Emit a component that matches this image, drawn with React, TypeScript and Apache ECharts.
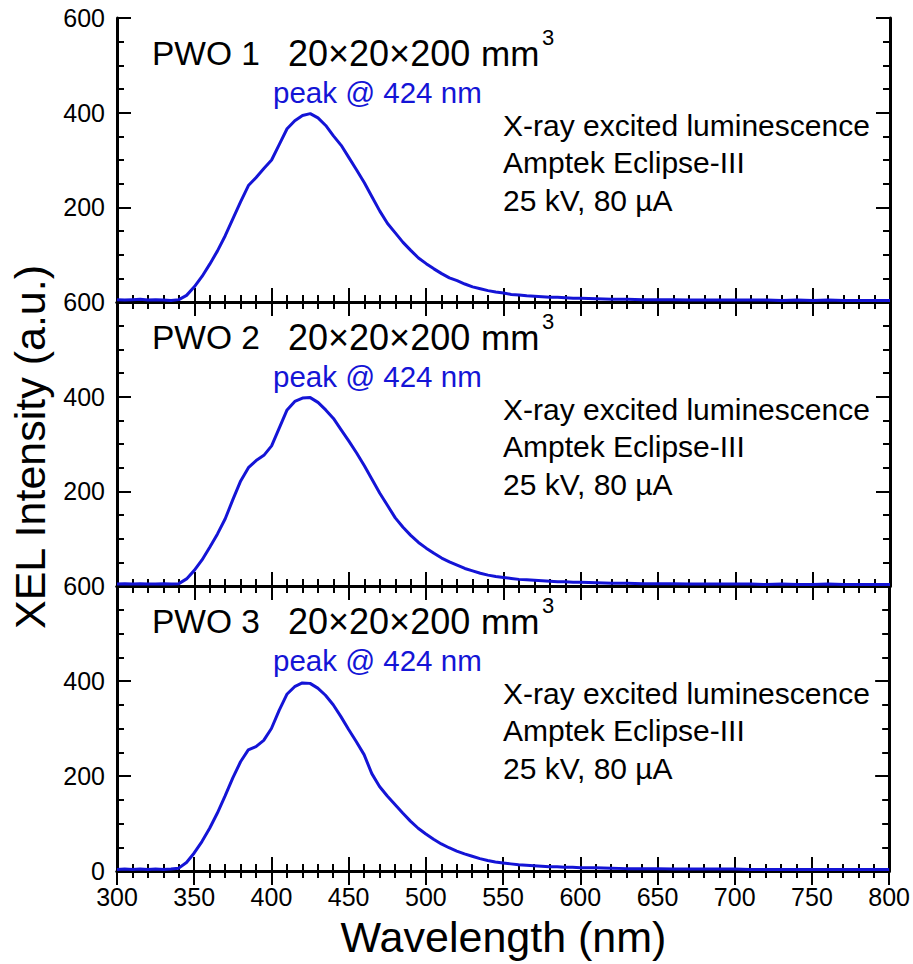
import React, { useEffect, useRef } from "react";
import * as echarts from "echarts";

const WAVELENGTHS = [
  300, 305, 310, 315, 320, 325, 330, 335, 340, 345, 350, 355, 360, 365, 370, 375, 380, 385, 390, 395,
  400, 405, 410, 415, 420, 425, 430, 435, 440, 445, 450, 455, 460, 465, 470, 475, 480, 485, 490, 495,
  500, 505, 510, 515, 520, 525, 530, 535, 540, 545, 550, 555, 560, 565, 570, 575, 580, 585, 590, 595,
  600, 610, 620, 630, 640, 650, 660, 670, 680, 690, 700, 710, 720, 730, 740, 750, 760, 770, 780, 790, 800,
];

const PWO1 = [
  5, 4, 5, 6, 4, 5, 4, 3, 5, 14, 32, 54, 80, 108, 140, 176, 212, 246, 263, 282,
  300, 333, 366, 383, 394, 398, 389, 373, 351, 331, 305, 279, 252, 222, 192, 166, 146, 126, 109, 93,
  81, 70, 60, 51, 45, 38, 32, 28, 24, 21, 19, 16, 15, 13, 12, 11, 10, 10, 9, 8,
  8, 7, 6, 6, 5, 5, 5, 4, 4, 4, 4, 4, 4, 3, 4, 3, 4, 3, 3, 3, 3,
];

const PWO2 = [
  4, 5, 4, 5, 4, 4, 5, 4, 5, 15, 33, 55, 82, 110, 142, 183, 222, 250, 265, 276,
  296, 334, 372, 390, 397, 398, 388, 372, 354, 330, 306, 281, 254, 225, 196, 170, 144, 124, 107, 92,
  80, 69, 59, 51, 44, 37, 32, 27, 23, 20, 18, 16, 14, 13, 12, 11, 10, 9, 9, 8,
  8, 7, 6, 6, 5, 5, 5, 4, 4, 4, 4, 4, 3, 4, 3, 3, 4, 3, 3, 3, 3,
];

const PWO3 = [
  3, 4, 3, 4, 3, 4, 3, 4, 6, 18, 38, 62, 90, 122, 158, 196, 230, 255, 262, 275,
  300, 338, 372, 388, 396, 395, 385, 370, 350, 325, 298, 272, 245, 205, 178, 158, 140, 122, 105, 90,
  78, 67, 57, 49, 42, 36, 31, 26, 22, 19, 17, 15, 13, 12, 11, 10, 9, 9, 8, 8,
  7, 7, 6, 5, 5, 5, 4, 4, 4, 4, 4, 3, 3, 3, 3, 3, 3, 3, 3, 3, 3,
];

const SERIES = [PWO1, PWO2, PWO3];
const PANEL_TITLES = ["PWO 1", "PWO 2", "PWO 3"];
const SIZE_TEXT = "20×20×200";
const UNIT_TEXT = "mm";
const PEAK_TEXT = "peak @ 424 nm";
const NOTES = ["X-ray excited luminescence", "Amptek Eclipse-III", "25 kV, 80 µA"];
const X_TICKS = { min: 300, max: 800, interval: 50 };
const Y_TICKS = { min: 0, max: 600, interval: 200 };

const FONT = "'Liberation Sans', Arial, sans-serif";
const BLUE = "#1414d6";

export default function App() {
  const ref = useRef<HTMLDivElement>(null);
  useEffect(() => {
    if (!ref.current) return;
    const chart = echarts.init(ref.current, undefined, { renderer: "svg" });
    const left = 117;
    const width = 773;
    const tops = [18, 302, 586];
    const heights = [284, 284, 285];

    const grids: any[] = [];
    const xAxes: any[] = [];
    const yAxes: any[] = [];
    const series: any[] = [];

    const axisLine = { show: true, lineStyle: { color: "#000", width: 3 } };
    const tick = { show: true, inside: true, length: 14, lineStyle: { color: "#000", width: 2 } };
    const minor = (n: number) => ({ show: true, splitNumber: n, length: 7, lineStyle: { color: "#000", width: 2 } });

    for (let i = 0; i < 3; i++) {
      grids.push({ left, top: tops[i], width, height: heights[i], containLabel: false });
      const last = i === 2;
      xAxes.push({
        type: "value", gridIndex: i, position: "bottom", ...X_TICKS,
        axisLine, axisTick: tick, minorTick: minor(5), splitLine: { show: false },
        axisLabel: { show: last, color: "#000", fontSize: 25, fontFamily: FONT, margin: 13 },
      });
      xAxes.push({
        type: "value", gridIndex: i, position: "top", ...X_TICKS,
        axisLine, axisTick: tick, minorTick: minor(5), splitLine: { show: false },
        axisLabel: { show: false },
      });
      yAxes.push({
        type: "value", gridIndex: i, position: "left", ...Y_TICKS,
        axisLine, axisTick: tick, minorTick: minor(4), splitLine: { show: false },
        axisLabel: { show: true, showMinLabel: last, color: "#000", fontSize: 25, fontFamily: FONT, margin: 12 },
      });
      yAxes.push({
        type: "value", gridIndex: i, position: "right", ...Y_TICKS,
        axisLine, axisTick: tick, minorTick: minor(4), splitLine: { show: false },
        axisLabel: { show: false },
      });
      series.push({
        type: "line", xAxisIndex: 2 * i, yAxisIndex: 2 * i, showSymbol: false,
        data: WAVELENGTHS.map((w, k) => [w, SERIES[i][k]]),
        lineStyle: { color: BLUE, width: 3 }, itemStyle: { color: BLUE },
      });
    }

    const g: any[] = [];
    for (let i = 0; i < 3; i++) {
      const t = tops[i];
      g.push({ type: "text", x: 152, y: t + 35.3, style: { text: PANEL_TITLES[i], font: `33.5px ${FONT}`, fill: "#000", align: "left", verticalAlign: "middle" } });
      g.push({ type: "text", x: 288, y: t + 35.3, style: { text: SIZE_TEXT, font: `36px ${FONT}`, fill: "#000", align: "left", verticalAlign: "middle" } });
      g.push({ type: "text", x: 481, y: t + 35.3, style: { text: UNIT_TEXT, font: `35px ${FONT}`, fill: "#000", align: "left", verticalAlign: "middle" } });
      g.push({ type: "text", x: 542, y: t + 19.5, style: { text: "3", font: `22px ${FONT}`, fill: "#000", align: "left", verticalAlign: "middle" } });
      g.push({ type: "text", x: 273, y: t + 74, style: { text: PEAK_TEXT, font: `29.5px ${FONT}`, fill: BLUE, align: "left", verticalAlign: "middle" } });
      NOTES.forEach((n, k) => {
        g.push({ type: "text", x: 503, y: t + 107 + k * 37.5, style: { text: n, font: `30px ${FONT}`, fill: "#000", align: "left", verticalAlign: "middle" } });
      });
    }
    g.push({ type: "text", x: 30, y: 447, rotation: Math.PI / 2, style: { text: "XEL Intensity (a.u.)", font: `43px ${FONT}`, fill: "#000", align: "center", verticalAlign: "middle" } });
    g.push({ type: "text", x: 503.5, y: 937, style: { text: "Wavelength (nm)", font: `43px ${FONT}`, fill: "#000", align: "center", verticalAlign: "middle" } });

    chart.setOption({
      animation: false,
      backgroundColor: "#fff",
      grid: grids,
      xAxis: xAxes,
      yAxis: yAxes,
      series,
      graphic: g,
    });
    return () => chart.dispose();
  }, []);
  return <div ref={ref} style={{ position: "fixed", left: 0, top: 0, width: 913, height: 964 }} />;
}
